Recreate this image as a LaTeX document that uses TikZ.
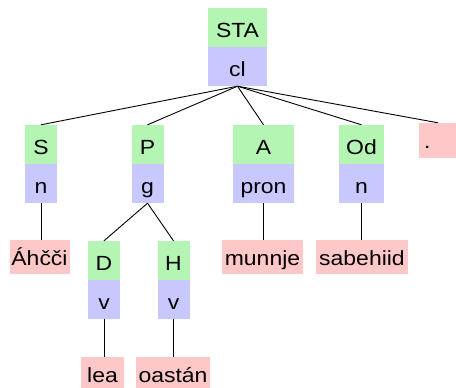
\documentclass[tikz,border=0pt]{standalone}
\usepackage{fontspec}
\setmainfont[FakeStretch=1.12]{Liberation Sans}
\definecolor{tgreen}{RGB}{180,245,180}
\definecolor{tblue}{RGB}{200,200,255}
\definecolor{tpink}{RGB}{255,200,200}
\tikzset{
  gbox/.style={fill=tgreen, inner sep=0pt, minimum height=39pt, text height=20pt, text depth=0pt, font=\fontsize{20.5}{24}\selectfont},
  bbox/.style={fill=tblue, inner sep=0pt, minimum height=39pt, text height=20pt, text depth=0pt, font=\fontsize{20.5}{24}\selectfont},
  pbox/.style={fill=tpink, inner sep=0pt, minimum height=34pt, text height=16pt, text depth=0pt, font=\fontsize{20.5}{24}\selectfont},
  edge/.style={draw=black, line width=0.9pt}
}
\begin{document}
\begin{tikzpicture}[x=1pt,y=-1pt]
\useasboundingbox (0,0) rectangle (456,388);
% root
\node[gbox, minimum width=59pt] (staG) at (237.5,27.5) {STA};
\node[bbox, minimum width=59pt] (staB) at (237.5,66.5) {cl};
% second row
\node[gbox, minimum width=32pt] (sG) at (41,144.5) {S};
\node[bbox, minimum width=32pt] (sB) at (41,183.5) {n};
\node[gbox, minimum width=32pt] (pG) at (147.5,144.5) {P};
\node[bbox, minimum width=32pt] (pB) at (147.5,183.5) {g};
\node[gbox, minimum width=61pt] (aG) at (263.5,144.5) {A};
\node[bbox, minimum width=61pt] (aB) at (263.5,183.5) {pron};
\node[gbox, minimum width=45pt] (odG) at (361.5,144.5) {Od};
\node[bbox, minimum width=45pt] (odB) at (361.5,183.5) {n};
\node[pbox, minimum width=38pt, minimum height=35pt] (dot) at (438,140.5) {\makebox[38pt][l]{\hspace{5pt}.}};
% third row
\node[pbox, minimum width=60pt] (ahcci) at (39.5,257) {Áhčči};
\node[gbox, minimum width=32pt] (dG) at (104,260.5) {D};
\node[bbox, minimum width=32pt] (dB) at (104,299.5) {v};
\node[gbox, minimum width=32pt] (hG) at (173.5,260.5) {H};
\node[bbox, minimum width=32pt] (hB) at (173.5,299.5) {v};
\node[pbox, minimum width=81pt] (munnje) at (262.5,257) {munnje};
\node[pbox, minimum width=92pt] (sabehiid) at (362,257) {sabehiid};
% fourth row
\node[pbox, minimum width=43pt] (lea) at (102.5,374) {lea};
\node[pbox, minimum width=74pt] (oastan) at (173,374) {oastán};
% connectors
\draw[edge] (staB.south) -- (sG.north);
\draw[edge] (staB.south) -- (pG.north);
\draw[edge] (staB.south) -- (aG.north);
\draw[edge] (staB.south) -- (odG.north);
\draw[edge] (staB.south) -- (dot.north);
\draw[edge] (sB.south) -- (ahcci.north -| sB.south);
\draw[edge] (pB.south) -- (dG.north);
\draw[edge] (pB.south) -- (hG.north);
\draw[edge] (aB.south) -- (munnje.north -| aB.south);
\draw[edge] (odB.south) -- (sabehiid.north -| odB.south);
\draw[edge] (dB.south) -- (lea.north -| dB.south);
\draw[edge] (hB.south) -- (oastan.north -| hB.south);
\end{tikzpicture}
\end{document}
